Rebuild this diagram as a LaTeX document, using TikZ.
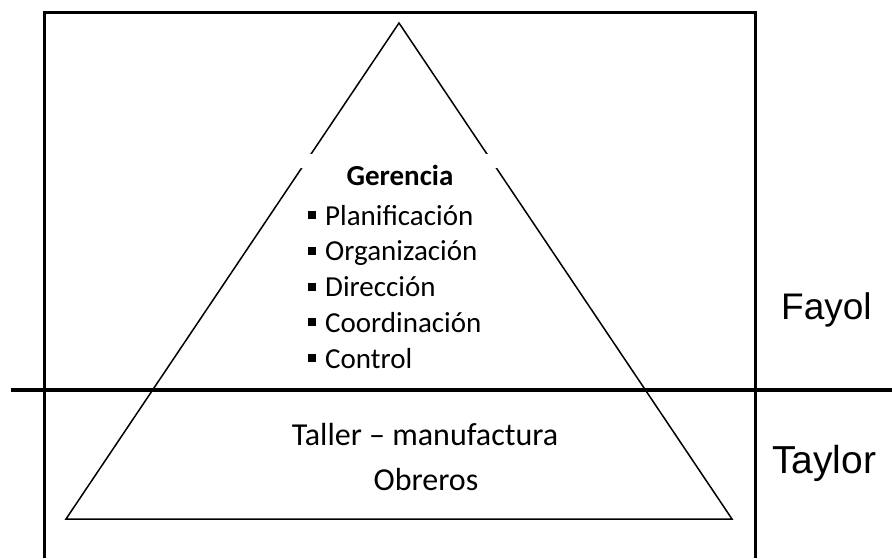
\documentclass[tikz,border=0pt]{standalone}
\usepackage{fontspec}
\setmainfont{Carlito}
\newfontfamily\arialfont{Liberation Sans}
\usetikzlibrary{calc}

\begin{document}
\begin{tikzpicture}[x=1pt,y=-1pt,
    itemtext/.style={inner sep=0pt, font=\fontsize{29}{34}\selectfont},
    lowtext/.style={inner sep=0pt, anchor=base, font=\fontsize{32}{38}\selectfont},
    sidetext/.style={inner sep=0pt, anchor=base west}]
  \useasboundingbox (0,0) rectangle (892,558);

  %% Frame and the dividing line
  \draw[line width=3pt] (44,558) -- (44,12) -- (755,12) -- (755,558);
  \draw[line width=4pt] (11,390) -- (892,390);

  %% The pyramid
  \coordinate (TOP) at (399,23);
  \coordinate (BL) at (66,519);
  \coordinate (BR) at (732,519);
  \draw[line width=1.5pt] (TOP) -- (BL) -- (BR) -- cycle;
  \fill[white] (300,154) rectangle (500,168);

  %% Management block
  \node[itemtext, anchor=base, font=\fontsize{29}{34}\selectfont\bfseries] (GER) at (400,185) {Gerencia};
  \foreach \i/\txt in {0/Planificación,1/Organización,2/Dirección,3/Coordinación,4/Control}
  {
    \node[itemtext, anchor=base west] (ITEM\i) at (308,{225+35.75*\i})
      {\rule[6pt]{7.5pt}{8pt}\hspace{9.5pt}\txt};
  }

  %% Workshop block
  \node[lowtext] (TALLER) at (425,445) {Taller -- manufactura};
  \node[lowtext] (OBR) at (426,490) {Obreros};

  %% Labels on the right
  \node[sidetext, font=\arialfont\fontsize{37}{42}\selectfont] (FAYOL) at (781,319) {Fayol};
  \node[sidetext, font=\arialfont\fontsize{39}{44}\selectfont] (TAYLOR) at (772,473) {Taylor};
\end{tikzpicture}
\end{document}
